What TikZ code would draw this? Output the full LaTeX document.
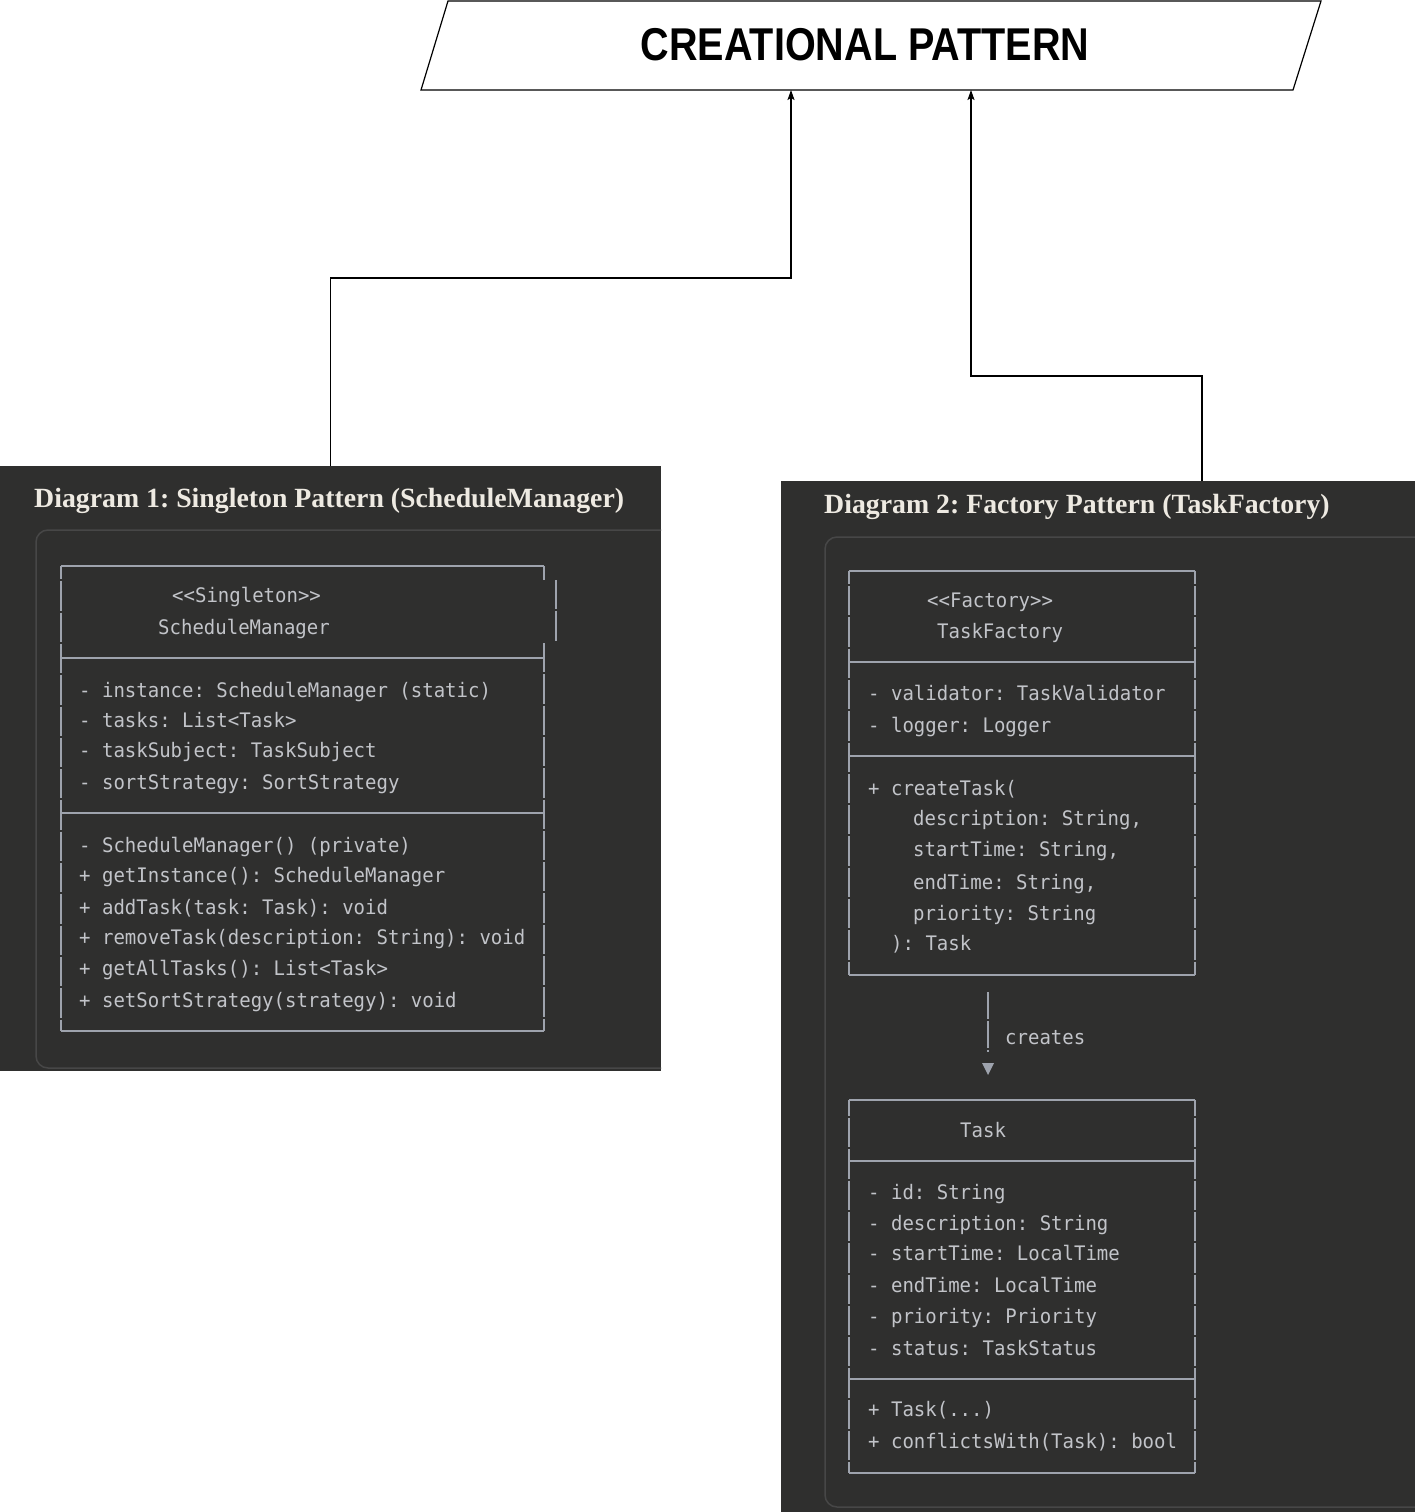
\documentclass[tikz,border=0pt]{standalone}
\usepackage{fontspec}
\setmainfont{Liberation Serif}
\newfontfamily\bannerfont[FakeStretch=0.86]{Liberation Sans}
\newfontfamily\codefont[FakeStretch=0.95,Ligatures=TeXOff]{DejaVu Sans Mono}
\usetikzlibrary{arrows.meta}
\definecolor{panelbg}{HTML}{2F2F2E}
\definecolor{panelrim}{HTML}{474747}
\definecolor{umlline}{HTML}{9EA3AD}
\definecolor{codegrey}{HTML}{C2C4C9}
\definecolor{titlewhite}{HTML}{EEEAE2}
\begin{document}
\begin{tikzpicture}[x=1pt,y=-1pt,
  conn/.style={draw=black, line width=1.2pt, -{Stealth[length=10pt,width=7pt,inset=2pt]}},
  panelbox/.style={fill=panelbg, draw=none, inner sep=0pt, outer sep=0pt},
  rim/.style={draw=panelrim, line width=1.5pt, rounded corners=12pt},
  hline/.style={draw=umlline, line width=2pt},
  vline/.style={draw=umlline, line width=2pt, dash pattern=on 29.3pt off 2pt},
  boxanchor/.style={draw=none, inner sep=0pt, outer sep=0pt},
  code/.style={anchor=base west, inner sep=0pt, text=codegrey, font=\codefont\fontsize{20}{24}\selectfont\frenchspacing},
  paneltitle/.style={anchor=base west, inner sep=0pt, text=titlewhite, font=\bfseries\fontsize{27.8}{32}\selectfont\frenchspacing},
]
\useasboundingbox (0,0) rectangle (1415,1512);

% banner
\draw[line width=1.2pt, fill=white] (448,1) -- (1321,1) -- (1293,90) -- (421,90) -- cycle;
\node[boxanchor, minimum width=872pt, minimum height=89pt] (cp) at (871,45.5) {};
\node[anchor=base, inner sep=0pt, font=\bannerfont\bfseries\fontsize{46}{50}\selectfont] (cptext) at (865,61) {CREATIONAL PATTERN};

% dark panels
\node[panelbox, minimum width=661pt, minimum height=605pt] (p1) at (330.5,768.5) {};
\node[panelbox, minimum width=634pt, minimum height=1031pt] (p2) at (1098,996.5) {};

\begin{scope}
  \clip (0,466) rectangle (661,1071);
  \draw[rim] (36,530) rectangle (700,1068);
\end{scope}
\begin{scope}
  \clip (781,481) rectangle (1415,1512);
  \draw[rim] (825,537) rectangle (1450,1507);
\end{scope}

\node[paneltitle] (t1) at (34,507) {Diagram 1: Singleton Pattern (ScheduleManager)};
\node[paneltitle] (t2) at (824,513) {Diagram 2: Factory Pattern (TaskFactory)};

% connectors to the banner
\draw[conn] (p1.north) -- ++(0,-188) -| ([xshift=-80pt]cp.south);
\draw[conn] ([xshift=104pt]p2.north) -- ++(0,-105) -| ([xshift=100pt]cp.south);

% ScheduleManager box
\node[boxanchor, minimum width=483pt, minimum height=465pt] (smbox) at (302.5,798.5) {};
\draw[hline] (61,566) -- (544,566);
\draw[hline] (61,658) -- (544,658);
\draw[hline] (61,813) -- (544,813);
\draw[hline] (61,1031) -- (544,1031);
\draw[vline, dash phase=16pt] (61,566) -- (61,1031);
\draw[hline] (544,566) -- (544,580);
\draw[vline] (556,580) -- (556,641);
\draw[vline] (544,643) -- (544,1031);

\node[code] (sm1) at (172,602) {<<Singleton>>};
\node[code] (sm2) at (158,634) {ScheduleManager};
\node[code] (sm3) at (79,697) {- instance: ScheduleManager (static)};
\node[code] (sm4) at (79,727) {- tasks: List<Task>};
\node[code] (sm5) at (79,757) {- taskSubject: TaskSubject};
\node[code] (sm6) at (79,789) {- sortStrategy: SortStrategy};
\node[code] (sm7) at (79,852) {- ScheduleManager() (private)};
\node[code] (sm8) at (79,882) {+ getInstance(): ScheduleManager};
\node[code] (sm9) at (79,914) {+ addTask(task: Task): void};
\node[code] (sm10) at (79,944) {+ removeTask(description: String): void};
\node[code] (sm11) at (79,975) {+ getAllTasks(): List<Task>};
\node[code] (sm12) at (79,1007) {+ setSortStrategy(strategy): void};

% TaskFactory box
\node[boxanchor, minimum width=346pt, minimum height=404pt] (tfbox) at (1022,773) {};
\draw[hline] (849,571) -- (1195,571);
\draw[hline] (849,662) -- (1195,662);
\draw[hline] (849,756) -- (1195,756);
\draw[hline] (849,975) -- (1195,975);
\draw[vline, dash phase=16.3pt] (849,571) -- (849,975);
\draw[vline, dash phase=16.3pt] (1195,571) -- (1195,975);

\node[code] (tf1) at (927,607) {<<Factory>>};
\node[code] (tf2) at (937,638) {TaskFactory};
\node[code] (tf3) at (868,700) {- validator: TaskValidator};
\node[code] (tf4) at (868,732) {- logger: Logger};
\node[code] (tf5) at (868,795) {+ createTask(};
\node[code] (tf6) at (913,825) {description: String,};
\node[code] (tf7) at (913,856) {startTime: String,};
\node[code] (tf8) at (913,889) {endTime: String,};
\node[code] (tf9) at (913,920) {priority: String};
\node[code] (tf10) at (891,950) {): Task};

% Task box
\node[boxanchor, minimum width=346pt, minimum height=373pt] (taskbox) at (1022,1286.5) {};
\draw[hline] (849,1100) -- (1195,1100);
\draw[hline] (849,1161) -- (1195,1161);
\draw[hline] (849,1379) -- (1195,1379);
\draw[hline] (849,1473) -- (1195,1473);
\draw[vline, dash phase=13.3pt] (849,1100) -- (849,1473);
\draw[vline, dash phase=13.3pt] (1195,1100) -- (1195,1473);

\node[code] (tk1) at (960,1137) {Task};
\node[code] (tk2) at (868,1199) {- id: String};
\node[code] (tk3) at (868,1230) {- description: String};
\node[code] (tk4) at (868,1260) {- startTime: LocalTime};
\node[code] (tk5) at (868,1292) {- endTime: LocalTime};
\node[code] (tk6) at (868,1323) {- priority: Priority};
\node[code] (tk7) at (868,1355) {- status: TaskStatus};
\node[code] (tk8) at (868,1416) {+ Task(...)};
\node[code] (tk9) at (868,1448) {+ conflictsWith(Task): bool};

% "creates" relation: a broken stem and a detached head
\coordinate (crx) at (988,0);
\draw[draw=umlline, line width=2pt, dash pattern=on 27pt off 2pt,
      shorten <=17pt, shorten >=48pt]
  (tfbox.south -| crx) -- (taskbox.north -| crx);
\fill[umlline] (taskbox.north -| crx) ++(-6,-37) -- ++(12,0) -- ++(-6,12) -- cycle;
\node[code] (crlabel) at (1005,1044) {creates};
\end{tikzpicture}
\end{document}
